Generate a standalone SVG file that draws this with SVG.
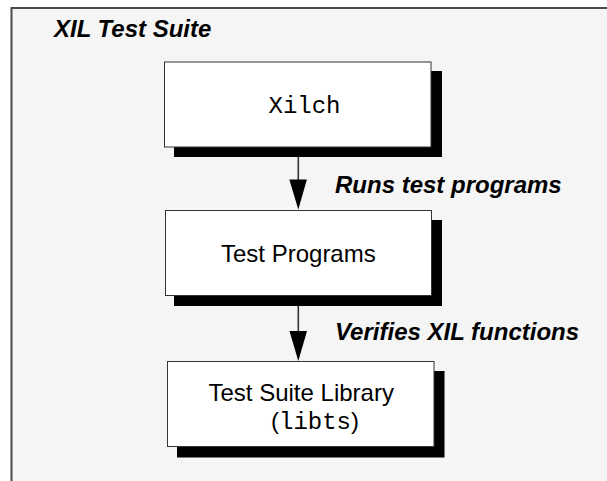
<svg xmlns="http://www.w3.org/2000/svg" width="607" height="481" viewBox="0 0 607 481">
<style>
.lbl{font-family:"Liberation Sans",Arial,sans-serif;font-size:24px;font-weight:bold;font-style:italic;fill:#000}
.txt{font-family:"Liberation Sans",Arial,sans-serif;font-size:24px;fill:#000}
.mono{font-family:"Liberation Mono","Courier New",monospace;font-size:24px;fill:#000}
.box{fill:#fff;stroke:#333;stroke-width:1}
.shadow{fill:#000}
.conn{stroke:#333;stroke-width:1.6;fill:none}
.head{fill:#000}
</style>
<rect x="0" y="0" width="607" height="481" fill="#fff"/>
<g id="frame">
<rect x="11.5" y="8" width="596" height="474" fill="#f5f5f5"/>
<path d="M11.5,481 V8 H607" fill="none" stroke="#4a4a4a" stroke-width="2"/>
<text class="lbl" x="54" y="37">XIL Test Suite</text>
</g>
<g id="connectors">
<line class="conn" x1="298.3" y1="147" x2="298.3" y2="182"/>
<polygon class="head" points="289.3,179.5 306.9,179.5 298.3,209.5"/>
<line class="conn" x1="298.3" y1="296" x2="298.3" y2="333"/>
<polygon class="head" points="289.5,331 307,331 298.3,361"/>
<text class="lbl" x="335" y="193">Runs test programs</text>
<text class="lbl" x="335" y="340">Verifies XIL functions</text>
</g>
<g id="node-xilch">
<rect class="shadow" x="174" y="71" width="268" height="86"/>
<rect class="box" x="164.5" y="62" width="266.5" height="85"/>
<text class="mono" x="268.5" y="113">Xilch</text>
</g>
<g id="node-test-programs">
<rect class="shadow" x="174" y="220" width="268" height="86"/>
<rect class="box" x="165.5" y="210.5" width="266" height="85"/>
<text class="txt" x="221" y="262">Test Programs</text>
</g>
<g id="node-test-suite-library">
<rect class="shadow" x="177" y="371" width="267.5" height="86.5"/>
<rect class="box" x="167.5" y="361.5" width="266.5" height="85"/>
<text class="txt" x="208.5" y="401">Test Suite Library</text>
<text x="271" y="429"><tspan class="txt">(</tspan><tspan class="mono">libts</tspan><tspan class="txt">)</tspan></text>
</g>
</svg>
